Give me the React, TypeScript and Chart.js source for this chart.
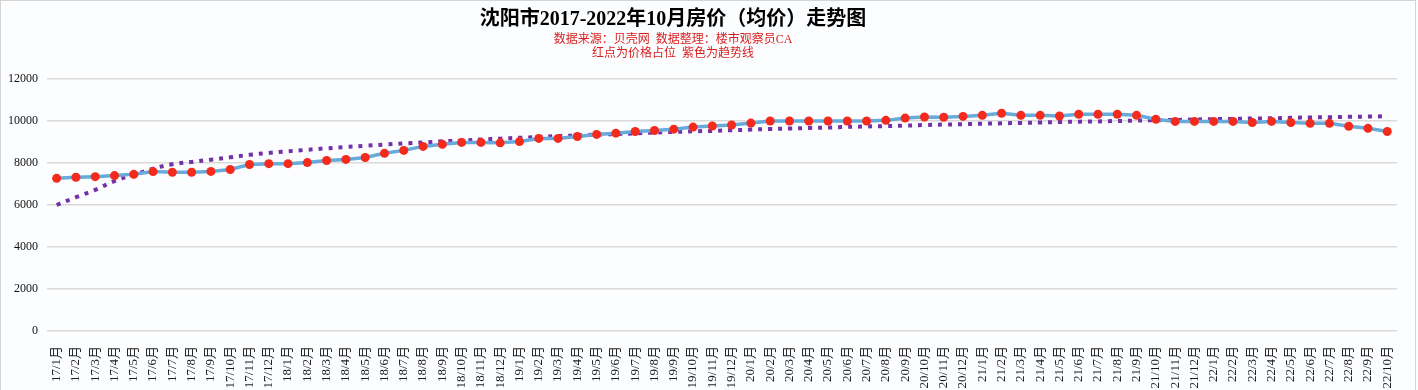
import { useEffect, useRef } from "react";
import { Chart, registerables } from "chart.js";

Chart.register(...registerables);

const monthLabels = [
  "17/1月", "17/2月", "17/3月", "17/4月", "17/5月", "17/6月", "17/7月", "17/8月", "17/9月", "17/10月", "17/11月", "17/12月",
  "18/1月", "18/2月", "18/3月", "18/4月", "18/5月", "18/6月", "18/7月", "18/8月", "18/9月", "18/10月", "18/11月", "18/12月",
  "19/1月", "19/2月", "19/3月", "19/4月", "19/5月", "19/6月", "19/7月", "19/8月", "19/9月", "19/10月", "19/11月", "19/12月",
  "20/1月", "20/2月", "20/3月", "20/4月", "20/5月", "20/6月", "20/7月", "20/8月", "20/9月", "20/10月", "20/11月", "20/12月",
  "21/1月", "21/2月", "21/3月", "21/4月", "21/5月", "21/6月", "21/7月", "21/8月", "21/9月", "21/10月", "21/11月", "21/12月",
  "22/1月", "22/2月", "22/3月", "22/4月", "22/5月", "22/6月", "22/7月", "22/8月", "22/9月", "22/10月",
];

const avgPrice = [
  7270, 7320, 7350, 7400, 7460, 7590, 7560, 7560, 7600, 7690, 7930, 7970,
  7970, 8020, 8120, 8170, 8260, 8460, 8600, 8790, 8890, 8980, 8980, 8960,
  9020, 9170, 9170, 9260, 9360, 9420, 9500, 9550, 9610, 9710, 9760, 9810,
  9900, 10000, 10000, 10000, 10000, 10000, 10000, 10030, 10140, 10190, 10180, 10220,
  10270, 10370, 10270, 10270, 10240, 10320, 10320, 10320, 10270, 10080, 9980, 9980,
  9980, 9980, 9930, 9980, 9930, 9890, 9890, 9750, 9650, 9500,
];

const trendLine = [
  6000, 6370, 6720, 7140, 7440, 7730, 7940, 8050, 8160, 8270, 8390, 8480,
  8560, 8630, 8700, 8760, 8820, 8880, 8930, 8980, 9030, 9070, 9120, 9160,
  9200, 9240, 9280, 9310, 9350, 9380, 9410, 9450, 9480, 9510, 9530, 9560,
  9590, 9620, 9640, 9670, 9690, 9720, 9740, 9760, 9780, 9810, 9830, 9850,
  9870, 9890, 9910, 9930, 9950, 9970, 9980, 10000, 10020, 10040, 10050, 10070,
  10090, 10100, 10120, 10130, 10150, 10170, 10180, 10200, 10210, 10230,
];

const yMin = 0;
const yMax = 12000;
const yStep = 2000;

const titleText = "沈阳市2017-2022年10月房价（均价）走势图";
const subtitleLines = ["数据来源：贝壳网  数据整理：楼市观察员CA", "红点为价格占位  紫色为趋势线"];

const SERIF = "'Liberation Serif', 'Times New Roman', 'Noto Sans CJK SC', serif";

const framePlugin = {
  id: "framePlugin",
  beforeDraw(chart: any) {
    const { ctx, width, height } = chart;
    ctx.save();
    ctx.fillStyle = "#fcfdff";
    ctx.fillRect(0, 0, width, height);
    ctx.strokeStyle = "#d4d4d4";
    ctx.lineWidth = 1;
    ctx.strokeRect(0.5, 0.5, width - 3, height + 10);
    ctx.restore();
  },
  afterDraw(chart: any) {
    const { ctx, width } = chart;
    const cx = width / 2 - 36;
    ctx.save();
    ctx.textAlign = "center";
    ctx.textBaseline = "middle";
    ctx.fillStyle = "#000000";
    ctx.font = `bold 20px ${SERIF}`;
    ctx.fillText(titleText, cx, 20);
    ctx.fillStyle = "#d81e1e";
    ctx.font = `12px ${SERIF}`;
    ctx.fillText(subtitleLines[0], cx, 40);
    ctx.fillText(subtitleLines[1], cx, 54);
    ctx.restore();
  },
};

export default function App() {
  const canvasRef = useRef<HTMLCanvasElement | null>(null);

  useEffect(() => {
    document.body.style.margin = "0";
    const canvas = canvasRef.current;
    if (!canvas) return;
    const chart = new Chart(canvas, {
      type: "line",
      data: {
        labels: monthLabels,
        datasets: [
          {
            label: "均价",
            data: avgPrice,
            borderColor: "#67abdd",
            borderWidth: 3.5,
            pointRadius: 4.5,
            pointBorderWidth: 0,
            pointBackgroundColor: "#f42a1c",
            pointBorderColor: "#f42a1c",
            tension: 0,
            order: 1,
          },
          {
            label: "趋势线",
            data: trendLine,
            borderColor: "#7232a6",
            borderWidth: 4,
            borderDash: [4, 6],
            pointRadius: 0,
            tension: 0.4,
            order: 2,
          },
        ],
      },
      options: {
        animation: false,
        responsive: true,
        maintainAspectRatio: false,
        layout: { padding: { top: 79, right: 17, left: 0, bottom: 0 } },
        plugins: {
          legend: { display: false },
          tooltip: { enabled: false },
          title: { display: false },
        },
        scales: {
          x: {
            offset: true,
            grid: { display: false, drawTicks: false },
            border: { display: false },
            ticks: {
              autoSkip: false,
              minRotation: 90,
              maxRotation: 90,
              padding: 15,
              color: "#1a1a1a",
              font: { family: SERIF, size: 13 },
            },
            afterFit(scale: any) {
              scale.height = 59;
            },
          },
          y: {
            min: yMin,
            max: yMax,
            grid: { color: "#d9d9d9", lineWidth: 1.5, drawTicks: false },
            border: { display: false },
            ticks: {
              stepSize: yStep,
              padding: 9,
              color: "#111111",
              font: { family: SERIF, size: 12 },
              callback: (v: any) => String(v),
            },
            afterFit(scale: any) {
              scale.width = 47;
            },
          },
        },
      },
      plugins: [framePlugin],
    });
    return () => chart.destroy();
  }, []);

  return (
    <div style={{ width: "1418px", height: "390px", position: "relative" }}>
      <canvas ref={canvasRef} />
    </div>
  );
}
